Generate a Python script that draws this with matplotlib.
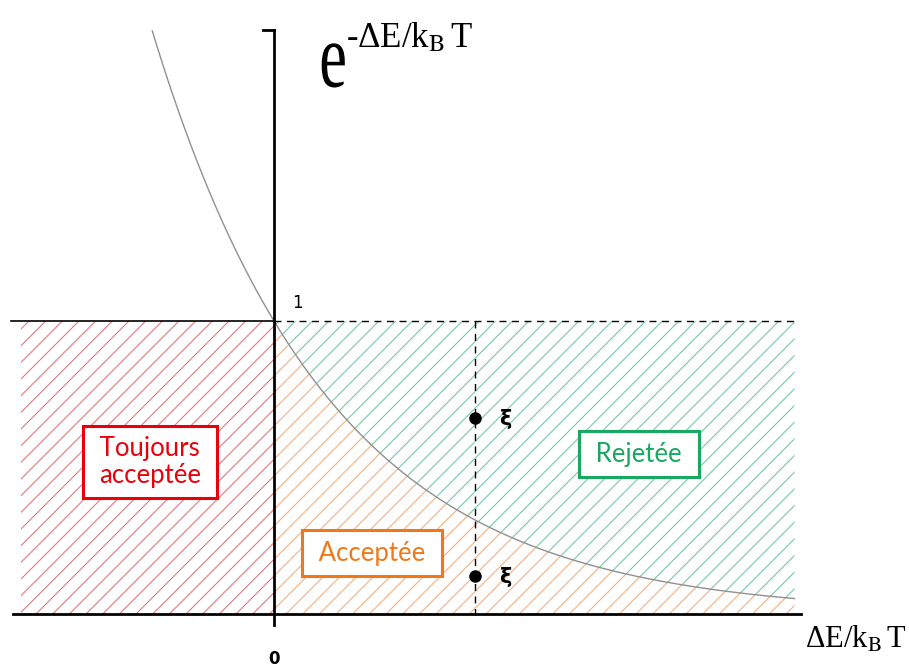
import numpy as np
import matplotlib
matplotlib.use("Agg")
from matplotlib import pyplot as plt
from matplotlib.patheffects import AbstractPathEffect
from matplotlib.transforms import Affine2D

plt.rcParams['mathtext.fontset'] = 'stix'
plt.rcParams['hatch.linewidth'] = 0.8

# diagram values (x in units of the xi line position, y = Boltzmann factor)
kT = 0.88                 # sets the decay of exp(-dE/kT)
x_left, x_right = -1.31, 2.59
x_xi = 1.0
xi_points = [0.67, 0.13]
region_labels = [' Toujours \nacceptée', ' Acceptée ', ' Rejetée ']
region_colors = ['#e8000b', '#f07818', '#18a860']
hatch_colors = ['#e47a80', '#f4b080', '#78c8a8']


class StretchY(AbstractPathEffect):
    """draw text glyphs stretched vertically about the baseline"""
    def __init__(self, sy):
        super().__init__()
        self.sy = sy

    def draw_path(self, renderer, gc, tpath, affine, rgbFace=None):
        renderer.draw_path(gc, tpath, Affine2D().scale(1, self.sy) + affine, rgbFace)


fig = plt.figure(figsize=(9.09, 6.69), dpi=100)
ax = fig.add_axes([0, 0, 1, 1])
ax.set_xlim(-274/201, (909-274)/201)
ax.set_ylim(-(669-614)/293, 614/293)
ax.axis('off')

# hatched regions
xc = np.linspace(0, x_right, 400)
yc = np.exp(-xc/kT)
ax.fill_between([x_left + 0.05, 0], 0, 1, facecolor='none', edgecolor=hatch_colors[0],
                hatch='//', linewidth=0)
ax.fill_between(xc, 0, yc, facecolor='none', edgecolor=hatch_colors[1],
                hatch='//', linewidth=0)
ax.fill_between(xc, yc, 1, facecolor='none', edgecolor=hatch_colors[2],
                hatch='//', linewidth=0)

# curve
xs = np.linspace(-kT*np.log(1.99), x_right, 500)
ax.plot(xs, np.exp(-xs/kT), color='#909090', lw=1.0)

# axes lines
ax.plot([0, 0], [-0.037, 1.993], color='black', lw=2.0)
ax.plot([-0.055, 0], [1.993, 1.993], color='black', lw=2.0)
ax.plot([x_left + 0.01, x_right + 0.03], [0, 0], color='black', lw=2.0)
ax.plot([x_left, 0], [1, 1], color='black', lw=1.2)
ax.plot([0, x_right], [1, 1], color='black', lw=1.0, ls=(0, (5, 4)))
ax.plot([x_xi, x_xi], [1, -0.02], color='black', lw=1.0, ls=(0, (5, 4)))

# xi points
ax.plot([x_xi]*len(xi_points), xi_points, 'o', color='black', ms=8)
for yv in xi_points:
    ax.text(x_xi + 0.12, yv - 0.005, 'ξ', fontsize=15, fontweight='bold',
            ha='left', va='center')

# boxed labels
label_pos = [(-0.617, 0.519), (0.488, 0.208), (1.816, 0.546)]
for lab, pos, c in zip(region_labels, label_pos, region_colors):
    ax.text(pos[0], pos[1], lab, fontsize=18.5, color=c, family='Lato',
            ha='center', va='center', linespacing=1.1,
            bbox=dict(boxstyle='square,pad=0.4', facecolor='white',
                      edgecolor=c, linewidth=2.2))

ax.text(0.09, 1.03, '1', fontsize=12, ha='left', va='bottom')
ax.text(0.0, -0.155, '0', fontsize=12, fontweight='bold', ha='center', va='center')

# y label: big e with superscript
ax.text(0.225, 1.800, 'e', fontsize=45, family='Liberation Serif',
        ha='left', va='baseline', path_effects=[StretchY(1.47)])
ax.text(0.36, 1.935, r'-ΔE/k$_{\mathrm{B}}$$\,$T', fontsize=25,
        family='Liberation Serif', ha='left', va='baseline')
# x label
ax.text(3.149, -0.116, r'ΔE/k$_{\mathrm{B}}$$\,$T', fontsize=22,
        family='Liberation Serif', ha='right', va='baseline')

fig.savefig('out.png', dpi=100)
